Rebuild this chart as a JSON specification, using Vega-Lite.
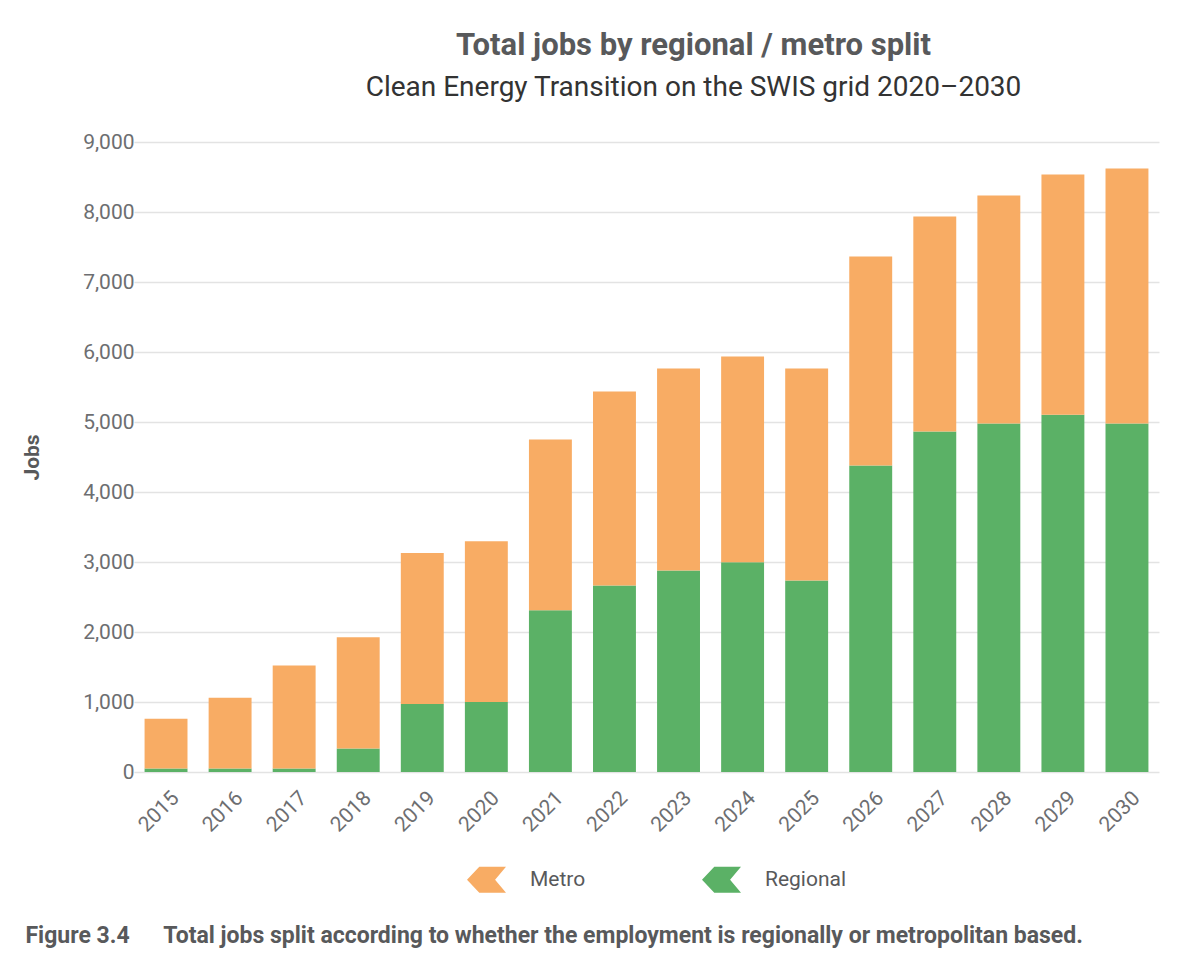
{
  "$schema": "https://vega.github.io/schema/vega-lite/v6.json",
  "autosize": "none",
  "width": 1025,
  "height": 630,
  "padding": {"left": 134, "top": 142, "right": 42, "bottom": 197},
  "background": "white",
  "title": {
    "text": "Total jobs by regional / metro split",
    "subtitle": "Clean Energy Transition on the SWIS grid 2020–2030",
    "anchor": "middle",
    "dx": 47,
    "offset": 28,
    "font": "Roboto",
    "fontSize": 31,
    "fontWeight": "bold",
    "color": "#58595b",
    "subtitleFont": "Roboto",
    "subtitleFontSize": 28,
    "subtitleFontWeight": "normal",
    "subtitleColor": "#333333",
    "subtitlePadding": 12
  },
  "data": {
    "values": [
      {"year": "2015", "type": "Regional", "jobs": 50}, {"year": "2015", "type": "Metro", "jobs": 710},
      {"year": "2016", "type": "Regional", "jobs": 50}, {"year": "2016", "type": "Metro", "jobs": 1010},
      {"year": "2017", "type": "Regional", "jobs": 50}, {"year": "2017", "type": "Metro", "jobs": 1470},
      {"year": "2018", "type": "Regional", "jobs": 336}, {"year": "2018", "type": "Metro", "jobs": 1590},
      {"year": "2019", "type": "Regional", "jobs": 970}, {"year": "2019", "type": "Metro", "jobs": 2160},
      {"year": "2020", "type": "Regional", "jobs": 1000}, {"year": "2020", "type": "Metro", "jobs": 2295},
      {"year": "2021", "type": "Regional", "jobs": 2310}, {"year": "2021", "type": "Metro", "jobs": 2440},
      {"year": "2022", "type": "Regional", "jobs": 2665}, {"year": "2022", "type": "Metro", "jobs": 2770},
      {"year": "2023", "type": "Regional", "jobs": 2880}, {"year": "2023", "type": "Metro", "jobs": 2885},
      {"year": "2024", "type": "Regional", "jobs": 2995}, {"year": "2024", "type": "Metro", "jobs": 2940},
      {"year": "2025", "type": "Regional", "jobs": 2735}, {"year": "2025", "type": "Metro", "jobs": 3030},
      {"year": "2026", "type": "Regional", "jobs": 4380}, {"year": "2026", "type": "Metro", "jobs": 2985},
      {"year": "2027", "type": "Regional", "jobs": 4865}, {"year": "2027", "type": "Metro", "jobs": 3070},
      {"year": "2028", "type": "Regional", "jobs": 4980}, {"year": "2028", "type": "Metro", "jobs": 3255},
      {"year": "2029", "type": "Regional", "jobs": 5105}, {"year": "2029", "type": "Metro", "jobs": 3430},
      {"year": "2030", "type": "Regional", "jobs": 4980}, {"year": "2030", "type": "Metro", "jobs": 3640}
    ]
  },
  "mark": {"type": "bar"},
  "encoding": {
    "x": {
      "field": "year",
      "type": "ordinal",
      "scale": {"paddingInner": 0.33, "paddingOuter": 0.165},
      "axis": {
        "title": "Figure 3.4\u00a0\u00a0\u00a0\u00a0\u00a0 Total jobs split according to whether the employment is regionally or metropolitan based.",
        "titleFont": "Roboto",
        "titleFontSize": 23,
        "titleFontWeight": "bold",
        "titleColor": "#58595b",
        "titleAlign": "left",
        "titleAnchor": "start",
        "titleBaseline": "alphabetic",
        "titleX": -109,
        "titleY": 170,
        "labelAngle": -45,
        "labelFont": "Roboto",
        "labelFontSize": 21,
        "labelColor": "#6d6e71",
        "labelPadding": 15,
        "labelOffset": 2,
        "ticks": false,
        "domain": false,
        "grid": false
      }
    },
    "y": {
      "field": "jobs",
      "type": "quantitative",
      "aggregate": "sum",
      "stack": "zero",
      "scale": {"domain": [0, 9000], "nice": false},
      "axis": {
        "title": "Jobs",
        "titleFont": "Roboto",
        "titleFontSize": 21,
        "titleFontWeight": "bold",
        "titleColor": "#58595b",
        "titlePadding": 40,
        "values": [0, 1000, 2000, 3000, 4000, 5000, 6000, 7000, 8000, 9000],
        "format": ",d",
        "labelFont": "Roboto",
        "labelFontSize": 21,
        "labelColor": "#6d6e71",
        "labelPadding": 0,
        "ticks": false,
        "domain": false,
        "grid": true,
        "gridColor": "#e3e3e3",
        "gridWidth": 1.5
      }
    },
    "color": {
      "field": "type",
      "type": "nominal",
      "scale": {"domain": ["Metro", "Regional"], "range": ["#F8AC64", "#5BB166"]},
      "legend": {
        "title": null,
        "orient": "none",
        "legendX": 333,
        "legendY": 718,
        "direction": "horizontal",
        "symbolType": "M-0.37,-0.67L1,-0.67L0.44,0L1,0.67L-0.37,0.67L-1,0Z",
        "symbolSize": 1521,
        "symbolStrokeWidth": 0,
        "symbolOpacity": 1,
        "labelFont": "Roboto",
        "labelFontSize": 21,
        "labelColor": "#58595b",
        "labelOffset": 24,
        "columnPadding": 116
      }
    },
    "order": {"field": "type", "sort": "descending"}
  },
  "config": {
    "view": {"stroke": null}
  }
}
